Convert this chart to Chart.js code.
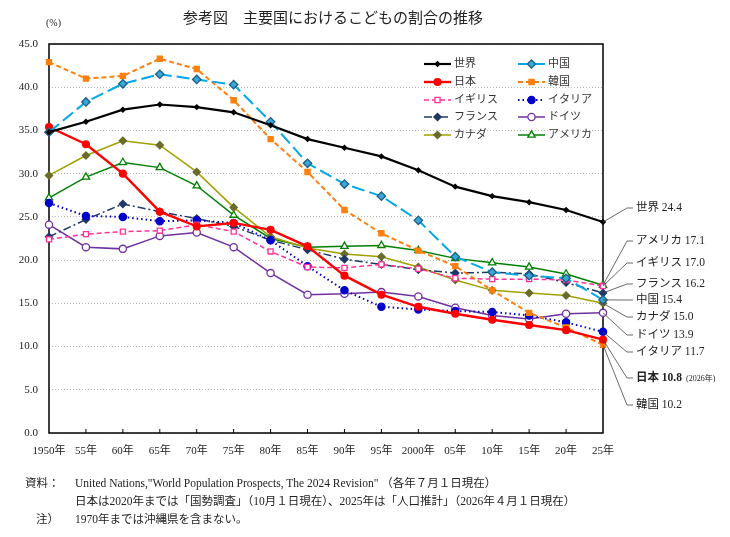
<!DOCTYPE html>
<html>
<head>
<meta charset="utf-8">
<script src="https://cdn.jsdelivr.net/npm/chart.js@4/dist/chart.umd.min.js"></script>
<style>
  body { margin: 0; background: #fff; }
  #wrap { position: relative; width: 730px; height: 537px; }
  .t { position: absolute; white-space: nowrap; color: #222; font-family: "Liberation Serif", "Noto Sans CJK JP", serif; }
</style>
</head>
<body>
<div id="wrap">
  <canvas id="c" width="730" height="537"></canvas>
  <div class="t" style="left:183px; top:6px; font-size:15px;">参考図　主要国におけるこどもの割合の推移</div>
  <div class="t" style="left:46px; top:17px; font-size:10px;">(%)</div>
  <div class="t" style="left:25px; top:474px; font-size:11.5px;">資料：</div>
  <div class="t" style="left:75px; top:474px; font-size:11.5px;">United Nations,"World Population Prospects, The 2024 Revision" （各年７月１日現在）</div>
  <div class="t" style="left:75px; top:492px; font-size:11.5px;">日本は2020年までは「国勢調査」（10月１日現在）、2025年は「人口推計」（2026年４月１日現在）</div>
  <div class="t" style="left:36px; top:510px; font-size:11.5px;">注）</div>
  <div class="t" style="left:75px; top:510px; font-size:11.5px;">1970年までは沖縄県を含まない。</div>
</div>
<script>
var years = ['1950年','55年','60年','65年','70年','75年','80年','85年','90年','95年','2000年','05年','10年','15年','20年','25年'];

var world   = [34.8, 36.0, 37.4, 38.0, 37.7, 37.1, 35.6, 34.0, 33.0, 32.0, 30.4, 28.5, 27.4, 26.7, 25.8, 24.4];
var china   = [34.8, 38.3, 40.4, 41.5, 40.9, 40.3, 36.0, 31.2, 28.8, 27.4, 24.6, 20.4, 18.6, 18.2, 17.9, 15.4];
var japan   = [35.4, 33.4, 30.0, 25.6, 23.9, 24.3, 23.5, 21.6, 18.2, 16.0, 14.6, 13.8, 13.1, 12.5, 11.9, 10.8];
var korea   = [42.9, 41.0, 41.3, 43.3, 42.1, 38.5, 34.0, 30.2, 25.8, 23.1, 21.1, 19.3, 16.5, 13.9, 12.2, 10.2];
var uk      = [22.4, 23.0, 23.3, 23.4, 24.1, 23.3, 21.0, 19.2, 19.1, 19.5, 19.0, 17.9, 17.8, 17.8, 17.7, 17.0];
var italy   = [26.6, 25.1, 25.0, 24.5, 24.6, 24.3, 22.3, 19.3, 16.5, 14.6, 14.3, 14.1, 14.0, 13.6, 12.8, 11.7];
var france  = [22.7, 24.7, 26.5, 25.6, 24.8, 23.9, 22.3, 21.2, 20.1, 19.5, 18.9, 18.5, 18.6, 18.4, 17.4, 16.2];
var germany = [24.1, 21.5, 21.3, 22.8, 23.2, 21.5, 18.5, 16.0, 16.1, 16.3, 15.8, 14.5, 13.6, 13.2, 13.8, 13.9];
var canada  = [29.8, 32.1, 33.8, 33.3, 30.2, 26.1, 22.7, 21.4, 20.7, 20.4, 19.2, 17.7, 16.5, 16.2, 15.9, 15.0];
var usa     = [27.2, 29.6, 31.3, 30.7, 28.6, 25.2, 22.5, 21.5, 21.6, 21.7, 21.1, 20.2, 19.7, 19.2, 18.4, 17.1];

var yTicks = [0, 5, 10, 15, 20, 25, 30, 35, 40, 45];

var serif = '"Liberation Serif", "Noto Sans CJK JP", serif';

function line(label, data, color, width, dash, pstyle, radius, fill, pborder) {
  return {
    label: label, data: data,
    borderColor: color, borderWidth: width, borderDash: dash,
    pointStyle: pstyle, pointRadius: radius,
    pointBackgroundColor: fill, pointBorderColor: pborder || color,
    pointBorderWidth: 1.3, tension: 0, fill: false, clip: false
  };
}

var datasets = [
  line('世界', world, '#000000', 2.2, [], 'rectRot', 2.3, '#000', '#000'),
  line('中国', china, '#00A8E8', 2, [13, 5], 'rectRot', 4.2, '#3AA6D6', '#1b5f86'),
  line('日本', japan, '#FF0000', 2.4, [], 'circle', 3.4, '#FF0000', '#FF0000'),
  line('韓国', korea, '#FF7F0E', 2, [5, 3], 'rect', 3.6, '#FF7F0E', '#FF7F0E'),
  line('イギリス', uk, '#FF3399', 1.5, [5, 3], 'rect', 3.6, '#ffffff', '#FF3399'),
  line('イタリア', italy, '#0000CC', 2, [1.5, 3], 'circle', 3.6, '#0000CC', '#0000CC'),
  line('フランス', france, '#1F3864', 1.5, [8, 3, 2, 3], 'rectRot', 3.6, '#1F3864', '#1F3864'),
  line('ドイツ', germany, '#7030A0', 1.5, [], 'circle', 3.6, '#ffffff', '#7030A0'),
  line('カナダ', canada, '#A0A000', 1.5, [], 'rectRot', 3.6, '#6B6B2A', '#6B6B2A'),
  line('アメリカ', usa, '#008000', 1.5, [], 'triangle', 4.2, '#ffffff', '#008000')
];

// right side labels: [dataset index, label centre y]
var endLabels = [[0, 208], [9, 241], [4, 263], [6, 284], [1, 300], [8, 317], [7, 335], [5, 352], [2, 378], [3, 405]];

var framePlugin = {
  id: 'frame',
  beforeDatasetsDraw: function (chart) {
    var a = chart.chartArea, ctx = chart.ctx, xs = chart.scales.x;
    ctx.save();
    ctx.strokeStyle = '#000';
    ctx.lineWidth = 1.5;
    ctx.strokeRect(a.left, a.top, a.right - a.left, a.bottom - a.top);
    ctx.lineWidth = 1;
    for (var i = 1; i < years.length - 1; i++) {
      var x = xs.getPixelForTick(i);
      ctx.beginPath(); ctx.moveTo(x, a.bottom); ctx.lineTo(x, a.bottom - 4); ctx.stroke();
    }
    ctx.restore();
  },
  afterDraw: function (chart) {
    var ctx = chart.ctx;
    ctx.save();
    // legend
    var cols = [[424, 451, 454], [518, 545, 548]];
    var rows = [64, 82, 100, 117, 135];
    ctx.font = '11px ' + serif;
    ctx.textBaseline = 'middle';
    chart.data.datasets.forEach(function (ds, i) {
      var c = cols[i % 2], y = rows[Math.floor(i / 2)];
      ctx.strokeStyle = ds.borderColor;
      ctx.lineWidth = ds.borderWidth;
      ctx.setLineDash(ds.borderDash);
      ctx.beginPath(); ctx.moveTo(c[0], y); ctx.lineTo(c[1], y); ctx.stroke();
      ctx.setLineDash([]);
      ctx.fillStyle = ds.pointBackgroundColor;
      ctx.strokeStyle = ds.pointBorderColor;
      ctx.lineWidth = 1.3;
      Chart.helpers.drawPoint(ctx, { pointStyle: ds.pointStyle, radius: ds.pointRadius, borderWidth: 1.3, rotation: 0 }, (c[0] + c[1]) / 2, y);
      ctx.fillStyle = '#333';
      ctx.fillText(ds.label, c[2], y + 0.5);
    });
    // end labels with leader lines
    endLabels.forEach(function (e) {
      var ds = chart.data.datasets[e[0]];
      var meta = chart.getDatasetMeta(e[0]);
      var p = meta.data[meta.data.length - 1];
      var ly = e[1];
      ctx.strokeStyle = '#444';
      ctx.lineWidth = 0.8;
      ctx.beginPath(); ctx.moveTo(p.x, p.y); ctx.lineTo(627, ly); ctx.lineTo(633, ly); ctx.stroke();
      var v = ds.data[ds.data.length - 1].toFixed(1);
      ctx.fillStyle = '#222';
      if (ds.label === '日本') {
        ctx.font = 'bold 11.5px ' + serif;
        var txt = ds.label + ' ' + v;
        ctx.fillText(txt, 636, ly);
        var w = ctx.measureText(txt).width;
        ctx.font = '8px ' + serif;
        ctx.fillText('(2026年)', 636 + w + 4, ly + 1);
      } else {
        ctx.font = '11.5px ' + serif;
        ctx.fillText(ds.label + ' ' + v, 636, ly);
      }
    });
    ctx.restore();
  }
};

new Chart(document.getElementById('c'), {
  type: 'line',
  data: { labels: years, datasets: datasets },
  options: {
    responsive: false,
    animation: false,
    events: [],
    layout: { padding: { left: 0, top: 44, right: 127, bottom: 70 } },
    plugins: { legend: { display: false }, tooltip: { enabled: false } },
    scales: {
      x: {
        offset: false,
        grid: { display: false },
        border: { display: false },
        ticks: { autoSkip: false, maxRotation: 0, padding: 4, color: '#222', font: { family: serif, size: 11 } },
        afterFit: function (s) { s.height = 34; }
      },
      y: {
        min: 0, max: 45,
        afterBuildTicks: function (s) { s.ticks = yTicks.map(function (v) { return { value: v }; }); },
        grid: { color: '#b8b8b8', lineWidth: 1, drawTicks: false },
        border: { display: false, dash: [1, 2] },
        ticks: { padding: 11, color: '#222', font: { family: serif, size: 11 }, callback: function (v) { return v.toFixed(1); } },
        afterFit: function (s) { s.width = 49; }
      }
    }
  },
  plugins: [framePlugin]
});
</script>
</body>
</html>
